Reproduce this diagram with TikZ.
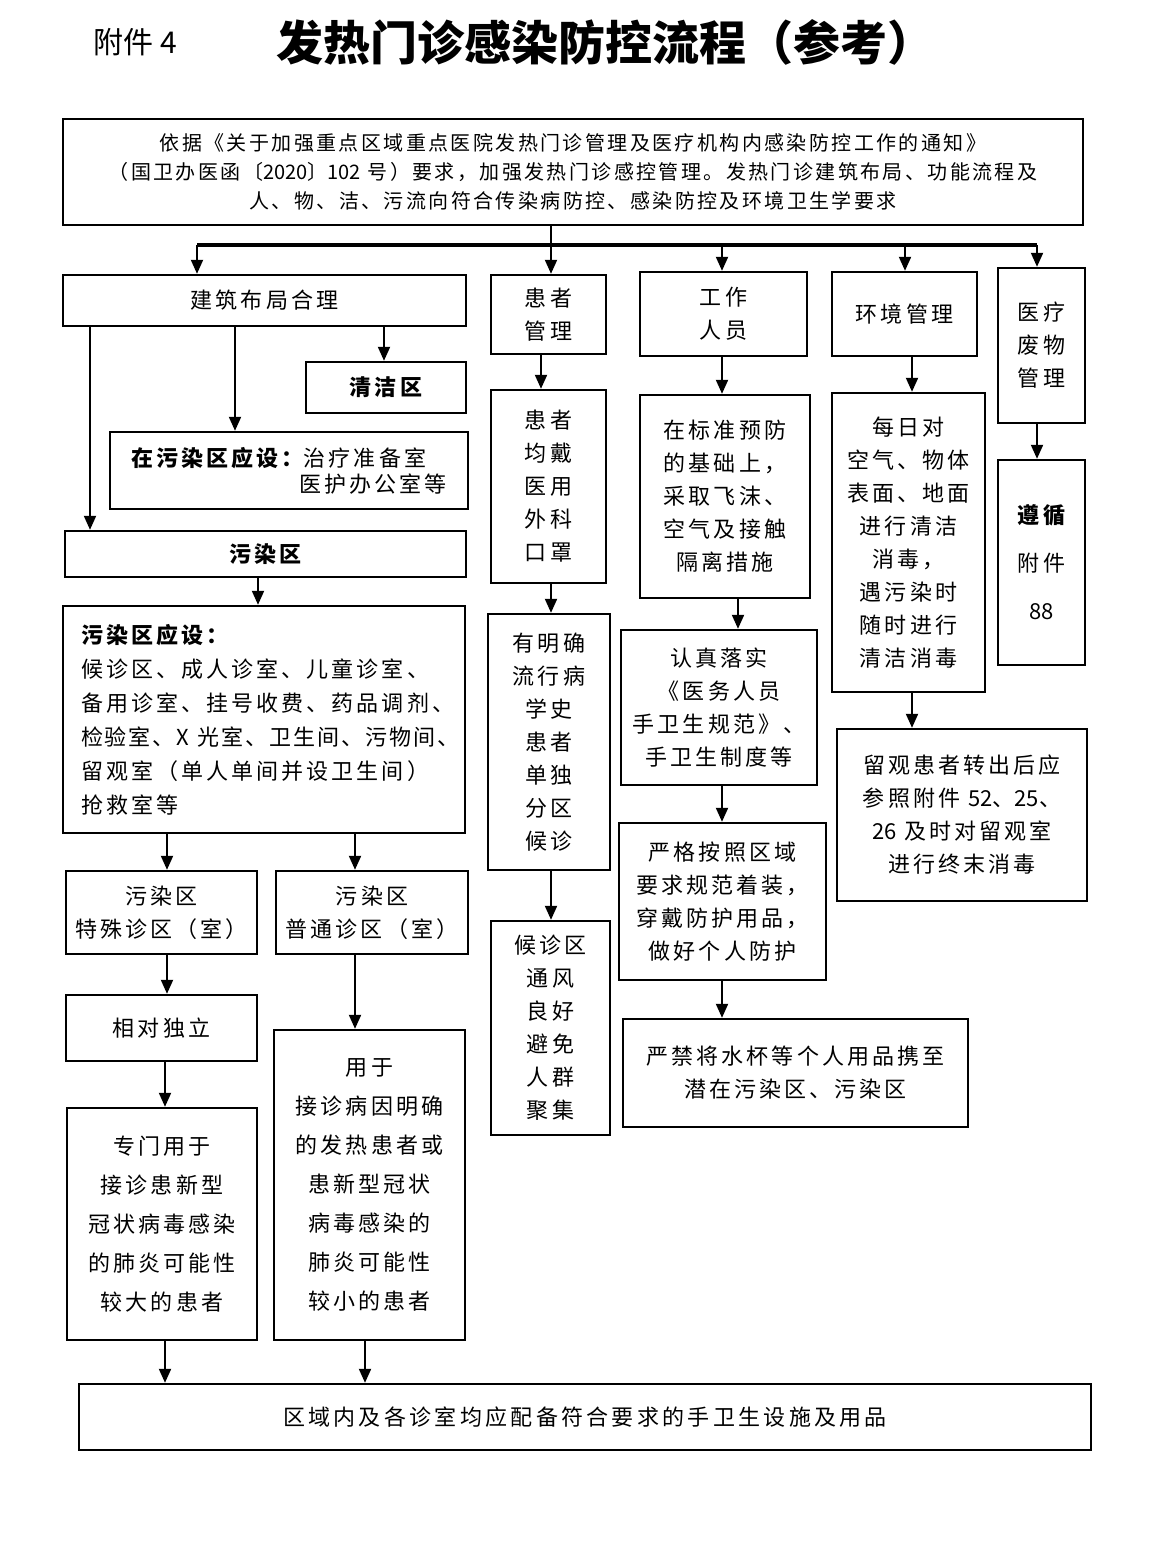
\documentclass[tikz,border=0pt]{standalone}
\usepackage{fontspec}
\setmainfont{Noto Sans CJK SC}
\usetikzlibrary{arrows.meta}
\newcommand\fs[3]{\fontsize{#1}{#2}\selectfont\addfontfeature{LetterSpace=#3}}
\newcommand\nl[1]{{\addfontfeature{LetterSpace=0}#1}}
\tikzset{
  box/.style={draw, line width=1.2pt, inner sep=0pt, align=center, font=\fs{11pt}{16.5pt}{14}},
  arr/.style={line width=1pt, -{Triangle[length=7pt,width=6pt]}},
  bus/.style={line width=2pt},
  link/.style={line width=1pt},
}
\newcommand\mybox[7][]{\node[box,#1,minimum width={(#4-#2)*0.5pt},minimum height={(#5-#3)*0.5pt}] (#6) at ({(#2+#4)/2},{(#3+#5)/2}) {#7};}
\begin{document}
\begin{tikzpicture}[x=0.5pt,y=-0.5pt]
\useasboundingbox[fill=white] (0,0) rectangle (1158,1551);
% titles
\node[font=\fontsize{15pt}{17pt}\selectfont] (fj) at (135,42) {附件 4};
\node[font=\fontsize{23.5pt}{27pt}\selectfont\bfseries] (tt) at (605,42) {发热门诊感染防控流程（参考）};
% top box
\mybox[font=\fs{10pt}{14.5pt}{12}]{63}{119}{1083}{225}{top}{依据《关于加强重点区域重点医院发热门诊管理及医疗机构内感染防控工作的通知》\\（国卫办医函〔\nl{2020}〕\nl{102} 号）要求，加强发热门诊感控管理。发热门诊建筑布局、功能流程及\\人、物、洁、污流向符合传染病防控、感染防控及环境卫生学要求}
% left column
\mybox{63}{275}{466}{326}{jz}{建筑布局合理}
\mybox{306}{362}{466}{413}{qj}{\bfseries 清洁区}
\mybox[align=left,font=\fs{11pt}{13pt}{14}]{110}{432}{468}{509}{zw}{{\bfseries 在污染区应设：}治疗准备室\\\hspace*{84pt}医护办公室等}
\mybox{65}{531}{466}{577}{wr}{\bfseries 污染区}
\node[box,align=left,font=\fs{11pt}{17pt}{14},minimum width=201pt,minimum height=113.5pt,text width=183pt,inner xsep=9pt] (ws) at (264,719.5) {{\bfseries 污染区应设：}\\候诊区、成人诊室、儿童诊室、\\备用诊室、挂号收费、药品调剂、\\{\addfontfeature{LetterSpace=9}检验室、X\kern4pt 光室、卫生间、污物间、}\\留观室（单人单间并设卫生间）\\抢救室等};
\mybox{66}{871}{257}{954}{ts}{污染区\\特殊诊区（室）}
\mybox{276}{871}{468}{954}{pt}{污染区\\普通诊区（室）}
\mybox{66}{995}{257}{1061}{xd}{相对独立}
\mybox[font=\fs{11pt}{19.5pt}{14}]{67}{1108}{257}{1340}{zm}{专门用于\\接诊患新型\\冠状病毒感染\\的肺炎可能性\\较大的患者}
\mybox[font=\fs{11pt}{19.5pt}{14}]{274}{1030}{465}{1340}{yy}{用于\\接诊病因明确\\的发热患者或\\患新型冠状\\病毒感染的\\肺炎可能性\\较小的患者}
\mybox[font=\fs{11pt}{14pt}{15}]{79}{1384}{1091}{1450}{bt}{区域内及各诊室均应配备符合要求的手卫生设施及用品}
% patient column
\mybox{491}{275}{606}{354}{hz}{患者\\管理}
\mybox{491}{390}{606}{583}{kz}{患者\\均戴\\医用\\外科\\口罩}
\mybox{488}{614}{610}{870}{ym}{有明确\\流行病\\学史\\患者\\单独\\分区\\候诊}
\mybox{491}{921}{610}{1135}{hq}{候诊区\\通风\\良好\\避免\\人群\\聚集}
% staff column
\mybox{640}{272}{807}{356}{gz}{工作\\人员}
\mybox{640}{395}{810}{598}{bz}{在标准预防\\的基础上，\\采取飞沫、\\空气及接触\\隔离措施}
\mybox{621}{630}{817}{785}{rz}{认真落实\\《医务人员\\手卫生规范》、\\手卫生制度等}
\mybox{619}{823}{826}{980}{yg}{严格按照区域\\要求规范着装，\\穿戴防护用品，\\做好个人防护}
\mybox{623}{1019}{968}{1127}{yj}{严禁将水杯等个人用品携至\\潜在污染区、污染区}
% environment column
\mybox{832}{272}{977}{356}{hj}{环境管理}
\mybox{832}{393}{985}{692}{mr}{每日对\\空气、物体\\表面、地面\\进行清洁\\消毒，\\遇污染时\\随时进行\\清洁消毒}
\mybox{837}{729}{1087}{901}{lg}{留观患者转出后应\\参照附件 \nl{52}、\nl{25}、\\\nl{26} 及时对留观室\\进行终末消毒}
% waste column
\mybox{998}{268}{1085}{423}{fw}{医疗\\废物\\管理}
\mybox[font=\fs{11pt}{24pt}{14}]{998}{460}{1085}{665}{zx}{{\bfseries 遵循}\\附件\\\nl{88}}
% bus
\coordinate (bL) at (197,245);
\coordinate (bR) at (1037,245);
\draw[link] (551,0 |- top.south) -- (551,0 |- bL);
\draw[bus] (bL) -- (bR);
\draw[arr] (bL) -- (bL |- jz.north);
\draw[arr] (551,0 |- bL) -- (551,0 |- hz.north);
\draw[arr] (722,0 |- bL) -- (722,0 |- gz.north);
\draw[arr] (905,0 |- bL) -- (905,0 |- hj.north);
\draw[arr] (bR) -- (bR |- fw.north);
% left connectors
\draw[arr] (384,0 |- jz.south) -- (384,0 |- qj.north);
\draw[arr] (235,0 |- jz.south) -- (235,0 |- zw.north);
\draw[arr] (90,0 |- jz.south) -- (90,0 |- wr.north);
\draw[arr] (258,0 |- wr.south) -- (258,0 |- ws.north);
\draw[arr] (167,0 |- ws.south) -- (167,0 |- ts.north);
\draw[arr] (355,0 |- ws.south) -- (355,0 |- pt.north);
\draw[arr] (167,0 |- ts.south) -- (167,0 |- xd.north);
\draw[arr] (165,0 |- xd.south) -- (165,0 |- zm.north);
\draw[arr] (355,0 |- pt.south) -- (355,0 |- yy.north);
\draw[arr] (165,0 |- zm.south) -- (165,0 |- bt.north);
\draw[arr] (365,0 |- yy.south) -- (365,0 |- bt.north);
% patient connectors
\draw[arr] (541,0 |- hz.south) -- (541,0 |- kz.north);
\draw[arr] (551,0 |- kz.south) -- (551,0 |- ym.north);
\draw[arr] (551,0 |- ym.south) -- (551,0 |- hq.north);
% staff connectors
\draw[arr] (722,0 |- gz.south) -- (722,0 |- bz.north);
\draw[arr] (738,0 |- bz.south) -- (738,0 |- rz.north);
\draw[arr] (722,0 |- rz.south) -- (722,0 |- yg.north);
\draw[arr] (722,0 |- yg.south) -- (722,0 |- yj.north);
% environment connectors
\draw[arr] (912,0 |- hj.south) -- (912,0 |- mr.north);
\draw[arr] (912,0 |- mr.south) -- (912,0 |- lg.north);
% waste connector
\draw[arr] (fw.south -| bR) -- (zx.north -| bR);
\end{tikzpicture}
\end{document}
